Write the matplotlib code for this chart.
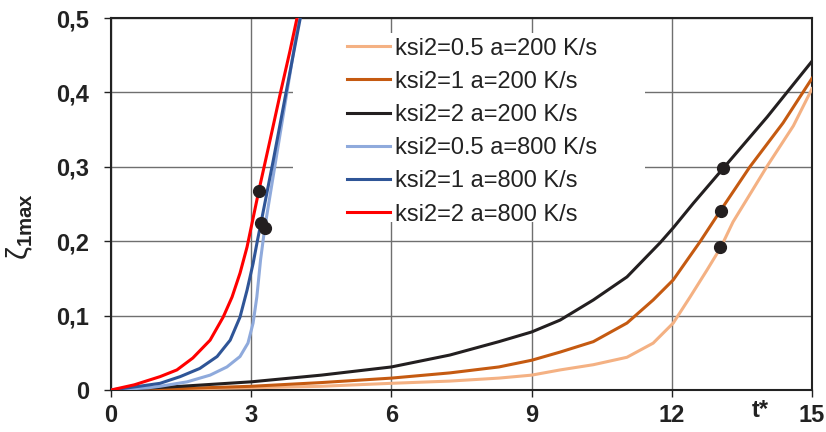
import numpy as np
import matplotlib
matplotlib.use('Agg')
import matplotlib.pyplot as plt
from matplotlib.patches import Rectangle

plt.rcParams['font.family'] = ['Liberation Sans', 'DejaVu Sans']
plt.rcParams['mathtext.fontset'] = 'custom'
plt.rcParams['mathtext.rm'] = 'Liberation Sans'
plt.rcParams['mathtext.it'] = 'Liberation Sans:italic'
plt.rcParams['mathtext.bf'] = 'Liberation Sans:bold'

# --- data ---
labels = ['ksi2=0.5 a=200 K/s', 'ksi2=1 a=200 K/s', 'ksi2=2 a=200 K/s',
          'ksi2=0.5 a=800 K/s', 'ksi2=1 a=800 K/s', 'ksi2=2 a=800 K/s']
colors = ['#F4B183', '#C55A11', '#231F20', '#8FAADC', '#2F5597', '#FF0000']

t_05_200 = [0, 3, 4.5, 6, 7.25, 8.3, 9, 9.61, 10.32, 11.04, 11.6, 12.03, 12.39, 12.75, 13.05, 13.31, 13.7, 14.04, 14.6, 15]
z_05_200 = [0, 0.003, 0.005, 0.009, 0.012, 0.016, 0.02, 0.027, 0.034, 0.044, 0.063, 0.09, 0.125, 0.161, 0.192, 0.226, 0.266, 0.301, 0.355, 0.405]

t_1_200 = [0, 1.5, 3, 4.5, 6, 7.25, 8.3, 9, 9.61, 10.32, 11.04, 11.6, 12.03, 12.6, 13.05, 13.67, 14.38, 15]
z_1_200 = [0, 0.002, 0.005, 0.01, 0.016, 0.023, 0.031, 0.04, 0.051, 0.065, 0.09, 0.121, 0.148, 0.199, 0.242, 0.3, 0.359, 0.419]

t_2_200 = [0, 1.5, 3, 4.5, 6, 7.25, 8.3, 9, 9.61, 10.32, 11.04, 11.75, 12.03, 12.46, 13.1, 14.04, 15]
z_2_200 = [0, 0.005, 0.011, 0.02, 0.031, 0.047, 0.065, 0.078, 0.094, 0.121, 0.152, 0.198, 0.218, 0.251, 0.298, 0.367, 0.442]

t_05_800 = [0, 0.8, 1.05, 1.63, 2.12, 2.48, 2.76, 2.93, 3.04, 3.12, 3.2, 3.29, 3.55, 3.83, 4.02]
z_05_800 = [0, 0.003, 0.005, 0.011, 0.02, 0.031, 0.045, 0.063, 0.09, 0.125, 0.175, 0.218, 0.318, 0.425, 0.5]

t_1_800 = [0, 0.6, 1.05, 1.48, 1.9, 2.27, 2.55, 2.76, 2.91, 3.04, 3.13, 3.21, 3.47, 3.77, 4.05]
z_1_800 = [0, 0.005, 0.009, 0.018, 0.029, 0.045, 0.067, 0.098, 0.134, 0.17, 0.2, 0.225, 0.308, 0.408, 0.5]

t_2_800 = [0, 0.5, 1.05, 1.41, 1.75, 2.12, 2.4, 2.59, 2.76, 2.91, 3.04, 3.17, 3.4, 3.62, 3.83, 3.98]
z_2_800 = [0, 0.007, 0.018, 0.027, 0.043, 0.067, 0.098, 0.125, 0.157, 0.192, 0.231, 0.27, 0.335, 0.398, 0.456, 0.5]

# marked points
dots_t = [13.03, 13.05, 13.1, 3.29, 3.21, 3.17]
dots_z = [0.192, 0.241, 0.298, 0.218, 0.225, 0.268]

xticks = [0, 3, 6, 9, 12, 15]
yticks = [0, 0.1, 0.2, 0.3, 0.4, 0.5]
ytick_labels = ['0', '0,1', '0,2', '0,3', '0,4', '0,5']

series = [(t_05_200, z_05_200), (t_1_200, z_1_200), (t_2_200, z_2_200),
          (t_05_800, z_05_800), (t_1_800, z_1_800), (t_2_800, z_2_800)]

fig = plt.figure(figsize=(8.26, 4.32), dpi=100)
ax = fig.add_axes([0.1344, 0.0972, 0.8487, 0.8611])

for (t, z), lab, c in zip(series, labels, colors):
    ax.plot(t, z, color=c, lw=2.2, label=lab, zorder=3, solid_joinstyle='round')

ax.plot(dots_t, dots_z, 'o', color='#231F20', ms=8.5, zorder=4)

ax.set_xlim(0, 15)
ax.set_ylim(0, 0.5)
ax.set_xticks(xticks)
ax.set_yticks(yticks)
ax.set_yticklabels(ytick_labels)
ax.set_axisbelow(True)
ax.grid(True, color='#6f6f6f', lw=1.0)

# white area behind the legend hides the grid
ax.add_patch(Rectangle((0.2596, 0.4516), 0.5022, 0.5081, transform=ax.transAxes,
                       facecolor='white', edgecolor='none', zorder=1))

for s in ax.spines.values():
    s.set_linewidth(1.5)
    s.set_color('#222222')

ax.tick_params(axis='y', length=5, width=1, pad=11, labelsize=17, colors='#222222')
ax.tick_params(axis='x', length=5, width=1, pad=5, labelsize=17, colors='#222222')
for lbl in ax.get_xticklabels() + ax.get_yticklabels():
    lbl.set_fontweight('bold')

ax.text(13.9, -0.056, 't*', transform=ax.get_xaxis_transform(), ha='center', va='center',
        fontsize=17, fontweight='bold', color='#222222')

ax.set_ylabel(r'$\mathrm{\zeta}_{\mathbf{1max}}$', fontsize=21, color='#222222')
ax.yaxis.set_label_coords(-0.108, 0.44)

ax.legend(loc='upper left', bbox_to_anchor=(0.3367, 0.9475), frameon=False,
          borderpad=0, borderaxespad=0, fontsize=17, handlelength=1.8,
          handletextpad=0.25, labelspacing=0.475, labelcolor='#222222')

fig.savefig('out.png', dpi=100)
